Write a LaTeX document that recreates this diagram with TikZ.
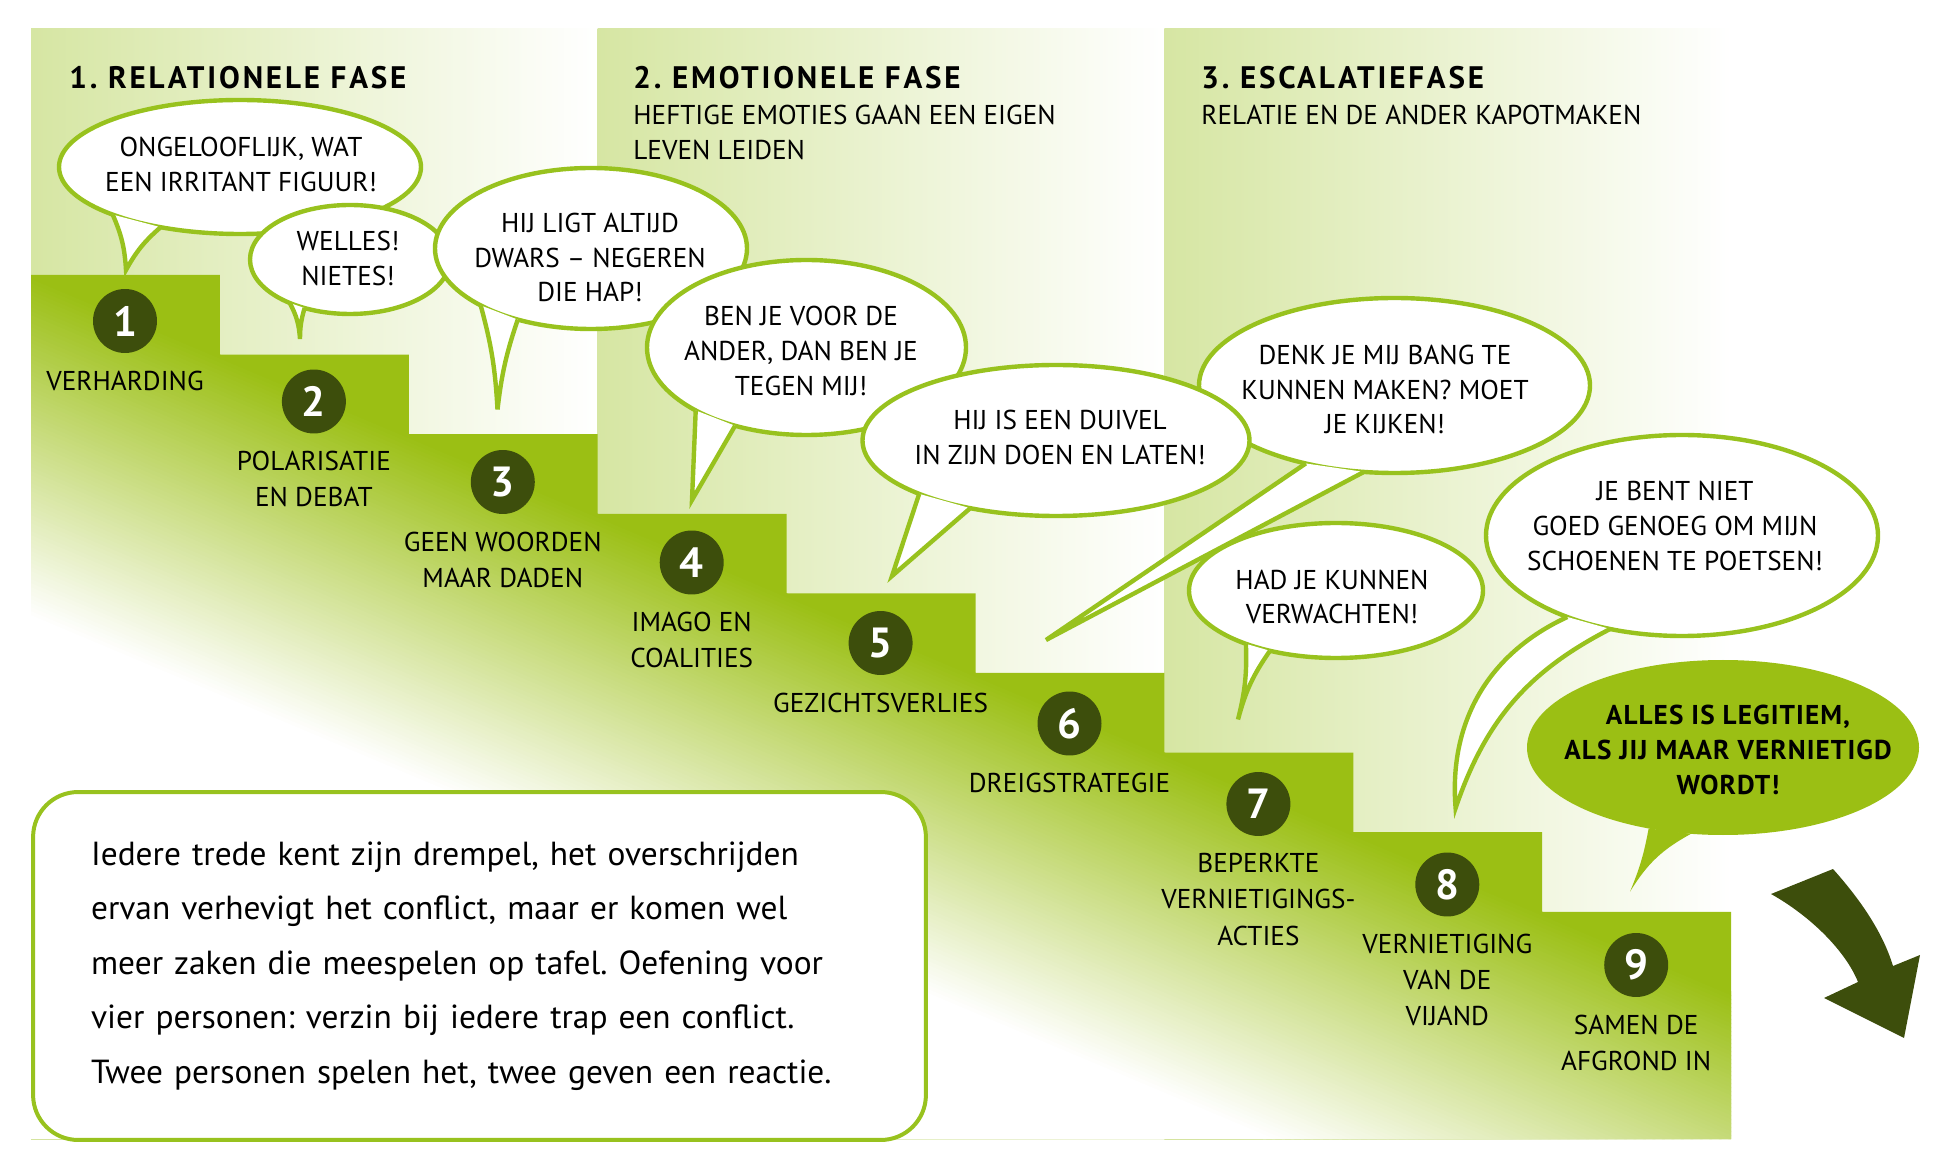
\documentclass[tikz,border=0pt]{standalone}
\usepackage{fontspec}
\setmainfont{PT Sans}
\newfontfamily\headfont{PT Sans}[LetterSpace=9]
\newfontfamily\loudfont{PT Sans}[LetterSpace=4]
\usetikzlibrary{positioning}
\frenchspacing

\definecolor{panelgreen}{RGB}{214,230,163}
\definecolor{stairgreen}{RGB}{155,191,20}
\definecolor{darkgreen}{RGB}{61,78,12}
\definecolor{linegreen}{RGB}{152,194,30}

\tikzset{
    stepnum/.style={circle,fill=darkgreen,text=white,minimum size=1.28cm,inner sep=0pt,
        font=\fontsize{24}{24}\selectfont\bfseries},
    steplabel/.style={align=center,inner sep=0pt,font=\fontsize{15.5}{20.5}\selectfont},
    phasetitle/.style={anchor=base west,inner sep=0pt,font=\headfont\fontsize{17.7}{21}\selectfont\bfseries},
    phasesub/.style={anchor=north west,inner sep=0pt,align=left,font=\fontsize{15.5}{20.2}\selectfont},
    bubble/.style={draw=linegreen,line width=0.088cm,fill=white},
    loudbubble/.style={fill=stairgreen},
    saytext/.style={align=center,inner sep=0pt,font=\fontsize{15.5}{19.9}\selectfont},
    notebox/.style={draw=linegreen,line width=0.08cm,fill=white,rounded corners=0.9cm,
        minimum width=17.86cm,minimum height=6.96cm,text width=15.54cm,align=left,inner sep=0pt,
        font=\fontsize{19}{31}\selectfont},
}

% Speech bubble: [style]{centre}{x radius}{y radius}{tail start angle}{tail end angle}{tip}{out}{back}
\newcommand{\saybubble}[9][bubble]{%
    \path[#1] (#2) ellipse [x radius=#3, y radius=#4];
    \path (#2) ++(#5:#3 and #4) coordinate (ta) (#2) ++(#6:#3 and #4) coordinate (tb);
    \path[#1] (ta) to[#8] (#7) to[#9] (tb);
}

\begin{document}
\begin{tikzpicture}[x=0.02cm,y=-0.02cm]
    \useasboundingbox (0,0) rectangle (1934,1168);

    % Phase panels, fading out to the right:
    \shade [left color=panelgreen,right color=white] (31,29) rectangle (597.7,1139);
    \shade [left color=panelgreen,right color=white] (597.7,29) rectangle (1164.4,1139);
    \shade [left color=panelgreen,right color=white] (1164.4,29) rectangle (1731.1,1139);

    % Stairs:
    % One step is 188.9 wide and 79.6 high, the green fades out towards the lower left
    \begin{scope}
    \clip (31,1139) \foreach \k in {0,...,8}{ -- ({31+188.9*\k},{275+79.6*\k}) -- ({219.9+188.9*\k},{275+79.6*\k}) }
        -- (1731.1,1139) -- cycle;
    \fill [stairgreen] (0,0) rectangle (1934,1168);
    \foreach \s [evaluate=\s as \p using 100-\s/3.4] in {0,4,...,340}{%
        \fill [stairgreen!\p!white] (31,275+\s) -- (1731.1,991.2+\s) -- (1731.1,996.2+\s) -- (31,280+\s) -- cycle;
    }
    \fill [white] (31,619) -- (1731.1,1335) -- (1731.1,1168) -- (31,1168) -- cycle;
    \end{scope}

    % Numbered steps with their labels:
    \foreach \k/\txt in {1/VERHARDING, 2/{POLARISATIE\\EN DEBAT}, 3/{GEEN WOORDEN\\MAAR DADEN},
        4/{IMAGO EN\\COALITIES}, 5/GEZICHTSVERLIES, 6/DREIGSTRATEGIE,
        7/{BEPERKTE\\VERNIETIGINGS-\\ACTIES}, 8/{VERNIETIGING\\VAN DE\\VIJAND}, 9/{SAMEN DE\\AFGROND IN}}{%
        \node [stepnum] (n\k) at ({125+188.9*(\k-1)},{321+80.5*(\k-1)}) {\k};
        \node [steplabel,below=0.34cm of n\k] (l\k) {\txt};
    }

    % Phase headings:
    \node [phasetitle] (f1) at (69,89) {1. RELATIONELE FASE};
    \node [phasetitle] (f2) at (633,89) {2. EMOTIONELE FASE};
    \node [phasesub] (s2) at (633,104.5) {HEFTIGE EMOTIES GAAN EEN EIGEN\\LEVEN LEIDEN};
    \node [phasetitle] (f3) at (1201,89) {3. ESCALATIEFASE};
    \node [phasesub] (s3) at (1201,104.5) {RELATIE EN DE ANDER KAPOTMAKEN};

    % Speech bubbles, later ones lie on top:
    \coordinate (tip1) at (126,270);
    \saybubble{240,167}{181}{67}{134.7}{116}{tip1}{bend left=10}{bend left=10}
    \node [saytext] (b1) at (241,164.5) {ONGELOOFLIJK, WAT\\EEN IRRITANT FIGUUR!};

    \coordinate (tip2) at (300,339);
    \saybubble{350,259.5}{100}{54.5}{127}{117}{tip2}{bend left=12}{bend left=8}
    \node [saytext] (b2) at (348,258.5) {WELLES!\\NIETES!};

    \coordinate (tip3) at (497.5,409.5);
    \saybubble{591,248.5}{156}{80.5}{135}{118}{tip3}{bend left=6}{bend left=6}
    \node [saytext] (b3) at (590,257.5) {HIJ LIGT ALTIJD\\DWARS – NEGEREN\\DIE HAP!};

    \coordinate (tip4) at (692,500);
    \saybubble{806.5,347.5}{159.5}{87.5}{134}{116.6}{tip4}{}{}
    \node [saytext] (b4) at (801,351) {BEN JE VOOR DE\\ANDER, DAN BEN JE\\TEGEN MIJ!};

    \coordinate (tip6) at (1046,640);
    \saybubble{1394.5,385.5}{195.5}{87.5}{117}{99}{tip6}{}{}
    \node [saytext] (b6) at (1385,389.5) {DENK JE MIJ BANG TE\\KUNNEN MAKEN? MOET\\JE KIJKEN!};

    \coordinate (tip5) at (892,576);
    \saybubble{1056,440.5}{193.5}{75.5}{135}{116.3}{tip5}{}{}
    \node [saytext] (b5) at (1060,437) {HIJ IS EEN DUIVEL\\IN ZIJN DOEN EN LATEN!};

    \coordinate (tip7) at (1238,719.5);
    \saybubble{1336,590.5}{147}{67.5}{127.8}{116.7}{tip7}{bend left=8}{bend left=10}
    \node [saytext] (b7) at (1332,597) {HAD JE KUNNEN\\VERWACHTEN!};

    \coordinate (tip8) at (1455.6,808);
    \saybubble{1682,535.5}{196}{100.5}{125.8}{111.5}{tip8}{bend right=35}{bend left=22}
    \node [saytext] (b8) at (1675,526) {JE BENT NIET\\GOED GENOEG OM MIJN\\SCHOENEN TE POETSEN!};

    \coordinate (tip9) at (1630,891.7);
    \saybubble[loudbubble]{1723,747.5}{196}{87.5}{112.3}{99.4}{tip9}{bend left=6}{bend left=15}
    \node [saytext,font=\loudfont\fontsize{15.5}{19.9}\selectfont\bfseries] (b9) at (1728,750)
        {ALLES IS LEGITIEM,\\ALS JIJ MAAR VERNIETIGD\\WORDT!};

    % Exercise text:
    \node [notebox] (note) at (479.5,966) {Iedere trede kent zijn drempel, het overschrijden\\
        ervan verhevigt het conflict, maar er komen wel\\
        meer zaken die meespelen op tafel. Oefening voor\\
        vier personen: verzin bij iedere trap een conflict.\\
        Twee personen spelen het, twee geven een reactie.};

    % Arrow down into the abyss:
    \fill [darkgreen] (1771,894) -- (1833,869) .. controls (1858,897) and (1882,930) .. (1893,966)
        -- (1920,955) -- (1904,1038) -- (1824,998) -- (1858,982)
        .. controls (1846,952) and (1812,917) .. (1771,894) -- cycle;
\end{tikzpicture}
\end{document}
